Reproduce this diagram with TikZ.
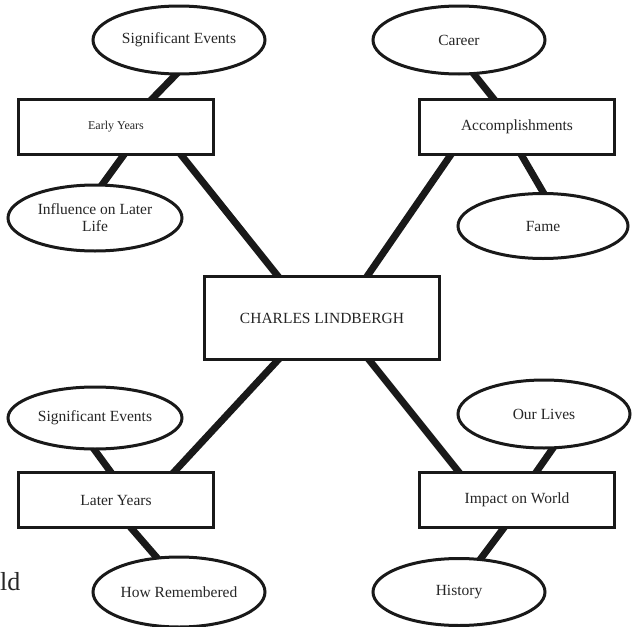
\documentclass[tikz,border=0pt]{standalone}
\usepackage{fontspec}
\setmainfont{Liberation Serif}
\usetikzlibrary{shapes.geometric,backgrounds}
\begin{document}
\begin{tikzpicture}[x=1pt,y=-1pt,
  oval/.style={ellipse,draw=black!90,line width=3pt,fill=white,inner sep=0pt,
    minimum width=172pt,minimum height=68pt,font=\fontsize{15.5}{17}\selectfont,align=center,text=black!85},
  topic/.style={rectangle,draw=black!90,line width=3pt,fill=white,inner sep=0pt,
    minimum width=195pt,minimum height=55pt,font=\fontsize{15.5}{17}\selectfont,text=black!85},
  link/.style={line width=7pt,draw=black!90,shorten <=-5pt,shorten >=-5pt}]
\useasboundingbox (0,0) rectangle (633,627);
% nodes
\node[oval] (se1) at (179,40) {Significant Events};
\node[topic,font=\fontsize{12}{14}\selectfont] (ey) at (116,127) {Early Years};
\node[oval,minimum width=174pt,minimum height=66pt] (infl) at (95,218) {Influence on Later\\Life};
\node[oval] (car) at (459,40) {Career};
\node[topic] (acc) at (517,127) {Accomplishments};
\node[oval,minimum width=170pt,minimum height=65pt] (fame) at (543,226) {Fame};
\node[topic,minimum width=235pt,minimum height=83pt] (main) at (322,318) {CHARLES LINDBERGH};
\node[oval,minimum width=174pt,minimum height=62pt] (se2) at (95,418) {Significant Events};
\node[topic] (ly) at (116,500) {Later Years};
\node[oval,minimum height=70pt] (how) at (179,592) {How Remembered};
\node[oval] (our) at (544,414) {Our Lives};
\node[topic] (imp) at (517,500) {Impact on World};
\node[oval,minimum height=67pt] (hist) at (459,592) {History};
\node[anchor=base west,inner sep=0pt,font=\fontsize{26}{28}\selectfont,text=black!85] (ld) at (0,590) {ld};
% connectors
\begin{scope}[on background layer]
\draw[link] ([xshift=-4pt]se1.south) -- ([xshift=37pt]ey.north);
\draw[link] ([xshift=7pt]ey.south) -- ([xshift=8pt]infl.north);
\draw[link] ([xshift=66pt]ey.south) -- ([xshift=-45pt]main.north);
\draw[link] ([xshift=16pt]car.south) -- ([xshift=-24pt]acc.north);
\draw[link] ([xshift=5pt]acc.south) -- (fame.north);
\draw[link] ([xshift=-67pt]acc.south) -- ([xshift=46pt]main.north);
\draw[link] ([xshift=-45pt]main.south) -- ([xshift=59pt]ly.north);
\draw[link] (se2.south) -- ([xshift=-6pt]ly.north);
\draw[link] ([xshift=16pt]ly.south) -- ([xshift=-24pt]how.north);
\draw[link] ([xshift=48pt]main.south) -- ([xshift=-59pt]imp.north);
\draw[link] ([xshift=8pt]our.south) -- ([xshift=20pt]imp.north);
\draw[link] ([xshift=-14pt]imp.south) -- ([xshift=23pt]hist.north);
\end{scope}
\end{tikzpicture}
\end{document}
